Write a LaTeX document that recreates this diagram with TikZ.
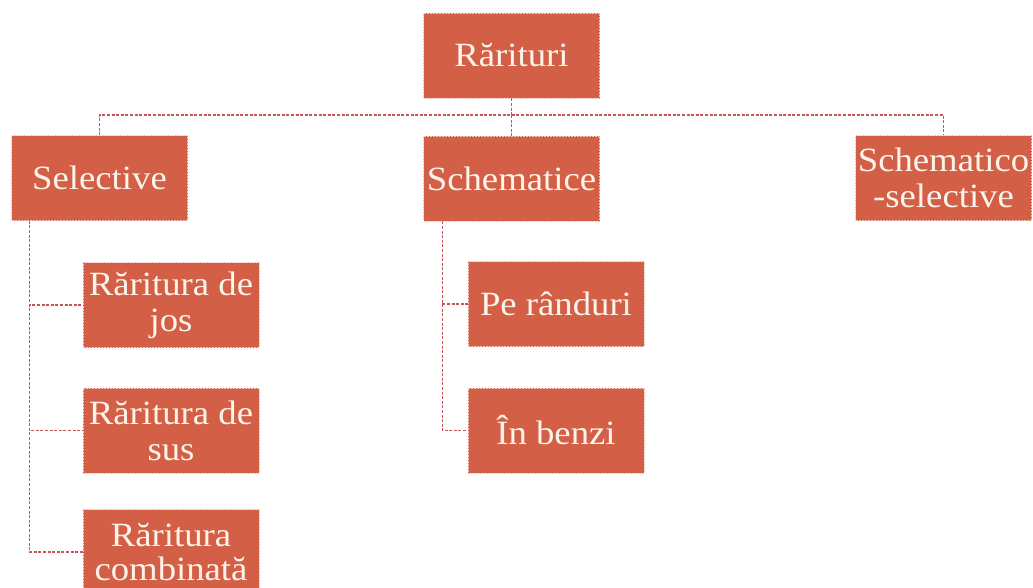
\documentclass[tikz,border=0pt]{standalone}
\usepackage{fontspec}
\setmainfont{Liberation Serif}[FakeStretch=1.08]
\usetikzlibrary{calc}
\definecolor{boxfill}{RGB}{211,96,70}
\definecolor{boxedge}{RGB}{236,200,190}
\definecolor{boxtext}{RGB}{252,244,234}
\definecolor{connc}{RGB}{196,86,94}
\begin{document}
\begin{tikzpicture}[x=1pt,y=-1pt,
  box/.style={fill=boxfill, draw=boxedge, dash pattern=on 2pt off 1pt, line width=0.6pt,
    minimum width=176pt, minimum height=85pt, inner sep=1pt, text=boxtext,
    font=\fontsize{34}{36}\selectfont, align=center},
  conn/.style={draw=connc, dash pattern=on 3pt off 1.6pt, line width=1.2pt}]
\clip (0,0) rectangle (1033,587);
\fill[white] (0,0) rectangle (1033,587);
% nodes
\node[box] (root) at (511.5,55.5) {Rărituri};
\node[box] (sel) at (99.5,178) {Selective};
\node[box] (sch) at (511.5,178.5) {Schematice};
\node[box] (schsel) at (943.5,178) {Schematico\\-selective};
\node[box] (jos) at (171,305) {Răritura de\\jos};
\node[box] (sus) at (171,430.5) {Răritura de\\sus};
\node[box, font=\fontsize{34}{34}\selectfont] (comb) at (171,552) {Răritura\\combinată};
\node[box] (rand) at (556,304) {Pe rânduri};
\node[box] (benzi) at (556,430.5) {În benzi};
% connectors
\coordinate (hb) at (511.5,115);
\coordinate (sv) at ($(sel.south west)+(18,0)$);
\coordinate (cv) at ($(sch.south west)+(19,0)$);
\draw[conn] (root.south) -- (hb);
\draw[conn] (sel.north) |- (hb) -| (schsel.north);
\draw[conn] (hb) -- (sch.north);
\draw[conn] (sv) |- (jos.west);
\draw[conn] (sv) |- (sus.west);
\draw[conn] (sv) |- (comb.west);
\draw[conn] (cv) |- (rand.west);
\draw[conn] (cv) |- (benzi.west);
\end{tikzpicture}
\end{document}
